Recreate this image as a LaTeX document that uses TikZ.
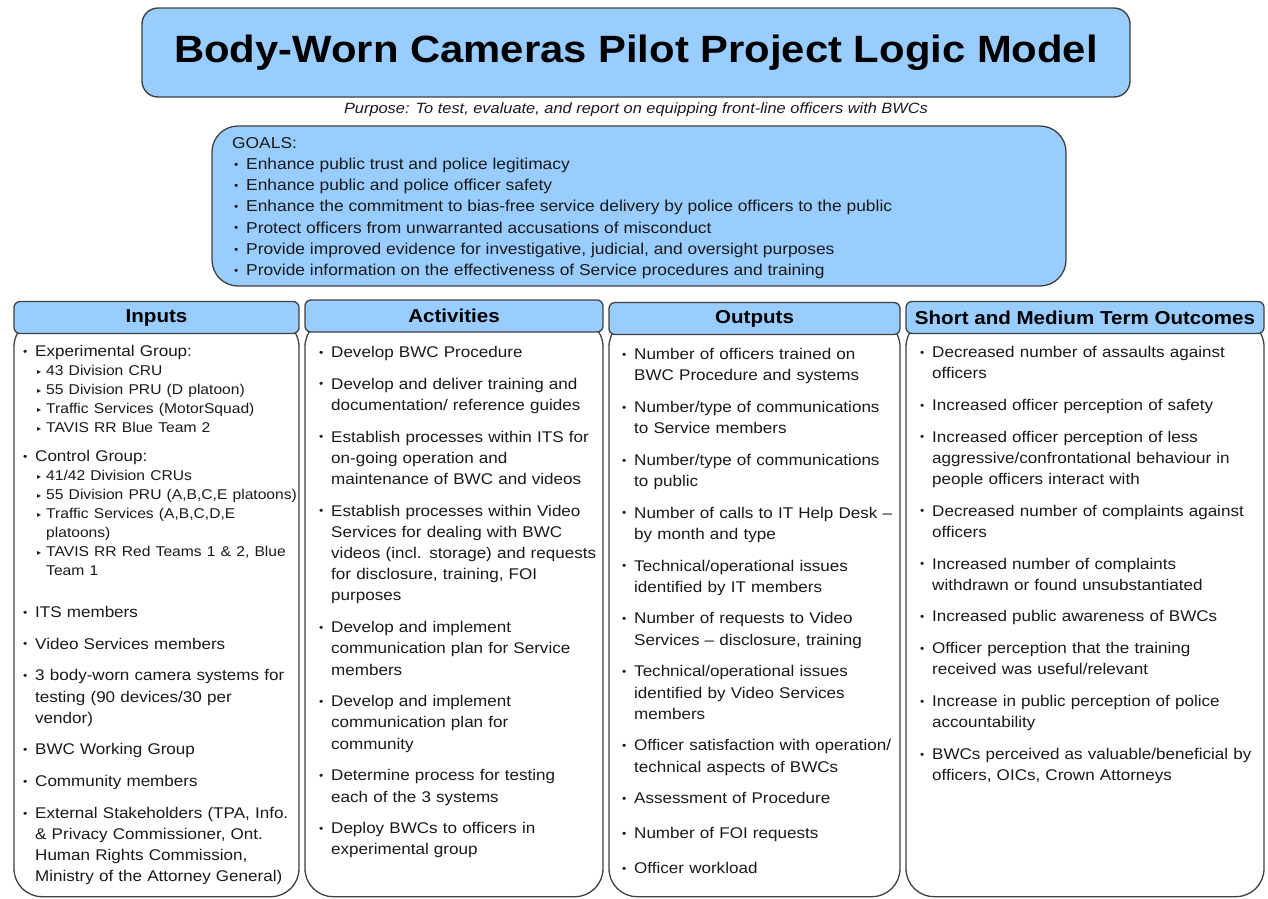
\documentclass[tikz,border=0pt]{standalone}
\usepackage{fontspec}
\setmainfont{Liberation Sans}[FakeStretch=1.1]
\newfontfamily\trifont{DejaVu Sans}
\usepackage{tikz}
\usetikzlibrary{positioning}
\setlength{\parskip}{0pt}

\definecolor{bwcblue}{RGB}{153,204,255}
\definecolor{bwcline}{RGB}{64,64,64}
\definecolor{bwctext}{RGB}{26,26,26}

\tikzstyle{titlebox} = [
	draw = bwcline,
	line width = 1.4pt,
	fill = bwcblue,
	rounded corners = 16pt,
	text = black,
	font = \fontsize{38}{44}\selectfont\bfseries
]
\tikzstyle{goalbox} = [
	draw = bwcline,
	line width = 1.3pt,
	fill = bwcblue,
	rounded corners = 26pt
]
\tikzstyle{head} = [
	draw = bwcline,
	line width = 1.3pt,
	fill = bwcblue,
	rounded corners = 6pt,
	minimum height = 32pt,
	inner sep = 0pt,
	text = black,
	font = \fontsize{18.7}{22}\selectfont\bfseries
]
\tikzstyle{colbody} = [
	draw = bwcline,
	line width = 1.3pt,
	fill = white,
	rounded corners = 28pt,
	minimum height = 578pt,
	anchor = north
]
\tikzstyle{coltext} = [
	anchor = north west,
	inner sep = 0pt,
	text = bwctext,
	font = \fontsize{15.5}{21.2}\selectfont
]

\newcommand{\bwcdot}{\makebox[0pt][l]{\raisebox{1.2pt}{\fontsize{11}{11}\selectfont •}}}
\newcommand{\bwctri}{\makebox[0pt][l]{\raisebox{0.8pt}{\trifont\fontsize{8}{8}\selectfont ▸}}}
\newcommand{\goalpt}{\hspace*{2pt}\bwcdot\hspace*{12pt}}

\newenvironment{bwclist}{\begin{list}{\bwcdot}{%
	\setlength{\leftmargin}{12pt}\setlength{\labelwidth}{0pt}%
	\setlength{\labelsep}{12pt}\setlength{\itemsep}{10.5pt}%
	\setlength{\parsep}{0pt}\setlength{\topsep}{0pt}%
	\setlength{\partopsep}{0pt}\raggedright}}{\end{list}}
\newenvironment{bwcsublist}{\begin{list}{\bwctri}{%
	\setlength{\leftmargin}{11pt}\setlength{\labelwidth}{0pt}%
	\setlength{\labelsep}{9pt}\setlength{\itemsep}{0pt}%
	\setlength{\parsep}{0pt}\setlength{\topsep}{0pt}%
	\setlength{\partopsep}{0pt}\fontsize{14.2}{19}\selectfont}}{\end{list}}

\begin{document}
\begin{tikzpicture}[x=1pt, y=-1pt]
	\useasboundingbox (0,0) rectangle (1268,898);

	\node [titlebox, minimum width=988pt, minimum height=89pt] (title) at (636,52.5) {Body-Worn Cameras Pilot Project Logic Model};
	\node [text=bwctext, font=\fontsize{14.9}{18}\selectfont\itshape] (purpose) at (636,110) {Purpose: To test, evaluate, and report on equipping front-line officers with BWCs};

	\node [goalbox, minimum width=854pt, minimum height=160pt] (goals) at (639,206) {};
	\node [anchor=north west, inner sep=0pt, align=left, text=bwctext, font=\fontsize{15.8}{21.2}\selectfont] (goaltxt) at (232,137) {GOALS:\\
		\goalpt Enhance public trust and police legitimacy\\
		\goalpt Enhance public and police officer safety\\
		\goalpt Enhance the commitment to bias-free service delivery by police officers to the public\\
		\goalpt Protect officers from unwarranted accusations of misconduct\\
		\goalpt Provide improved evidence for investigative, judicial, and oversight purposes\\
		\goalpt Provide information on the effectiveness of Service procedures and training};

	% column boxes
	\node [colbody, minimum width=285pt] (inbody) at (156.5,318) {};
	\node [colbody, minimum width=298pt] (actbody) at (454,318) {};
	\node [colbody, minimum width=291pt] (outbody) at (754.5,318) {};
	\node [colbody, minimum width=358pt] (ocbody) at (1085,318) {};

	\node [head, minimum width=285pt] (inhead) at (156.5,317.5) {Inputs};
	\node [head, minimum width=298pt] (acthead) at (454,316) {Activities};
	\node [head, minimum width=291pt] (outhead) at (754.5,318.5) {Outputs};
	\node [head, minimum width=358pt] (ochead) at (1085,317.5) {Short and Medium Term Outcomes};

	\node [coltext, text width=300pt] (intext) at (23,337) {\begin{bwclist}
		\item Experimental Group:
		\begin{bwcsublist}
			\item 43 Division CRU
			\item 55 Division PRU (D platoon)
			\item Traffic Services (MotorSquad)
			\item TAVIS RR Blue Team 2
		\end{bwcsublist}
		\item Control Group:
		\begin{bwcsublist}
			\item 41/42 Division CRUs
			\item 55 Division PRU (A,B,C,E platoons)
			\item Traffic Services (A,B,C,D,E\\platoons)
			\item TAVIS RR Red Teams 1 \& 2, Blue\\Team 1
		\end{bwcsublist}
		\setlength{\itemsep}{20.5pt}
		\item ITS members
		\setlength{\itemsep}{10.5pt}
		\item Video Services members
		\item 3 body-worn camera systems for\\testing (90 devices/30 per\\vendor)
		\item BWC Working Group
		\item Community members
		\item External Stakeholders (TPA, Info.\\\& Privacy Commissioner, Ont.\\Human Rights Commission,\\Ministry of the Attorney General)
	\end{bwclist}};

	\node [coltext, text width=300pt] (acttext) at (319,336) {\begin{bwclist}
		\item Develop BWC Procedure
		\item Develop and deliver training and\\documentation/ reference guides
		\item Establish processes within ITS for\\on-going operation and\\maintenance of BWC and videos
		\item Establish processes within Video\\Services for dealing with BWC\\videos (incl. storage) and requests\\for disclosure, training, FOI\\purposes
		\item Develop and implement\\communication plan for Service\\members
		\item Develop and implement\\communication plan for\\community
		\item Determine process for testing\\each of the 3 systems
		\item Deploy BWCs to officers in\\experimental group
	\end{bwclist}};

	\node [coltext, text width=300pt] (outtext) at (622,338) {\begin{bwclist}
		\item Number of officers trained on\\BWC Procedure and systems
		\item Number/type of communications\\to Service members
		\item Number/type of communications\\to public
		\item Number of calls to IT Help Desk --\\by month and type
		\item Technical/operational issues\\identified by IT members
		\item Number of requests to Video\\Services -- disclosure, training
		\item Technical/operational issues\\identified by Video Services\\members
		\item Officer satisfaction with operation/\\technical aspects of BWCs
		\item Assessment of Procedure
		\setlength{\itemsep}{13.8pt}
		\item Number of FOI requests
		\item Officer workload
	\end{bwclist}};

	\node [coltext, text width=345pt] (octext) at (920,336) {\begin{bwclist}
		\item Decreased number of assaults against\\officers
		\item Increased officer perception of safety
		\item Increased officer perception of less\\aggressive/confrontational behaviour in\\people officers interact with
		\item Decreased number of complaints against\\officers
		\item Increased number of complaints\\withdrawn or found unsubstantiated
		\item Increased public awareness of BWCs
		\item Officer perception that the training\\received was useful/relevant
		\item Increase in public perception of police\\accountability
		\item BWCs perceived as valuable/beneficial by\\officers, OICs, Crown Attorneys
	\end{bwclist}};
\end{tikzpicture}
\end{document}
